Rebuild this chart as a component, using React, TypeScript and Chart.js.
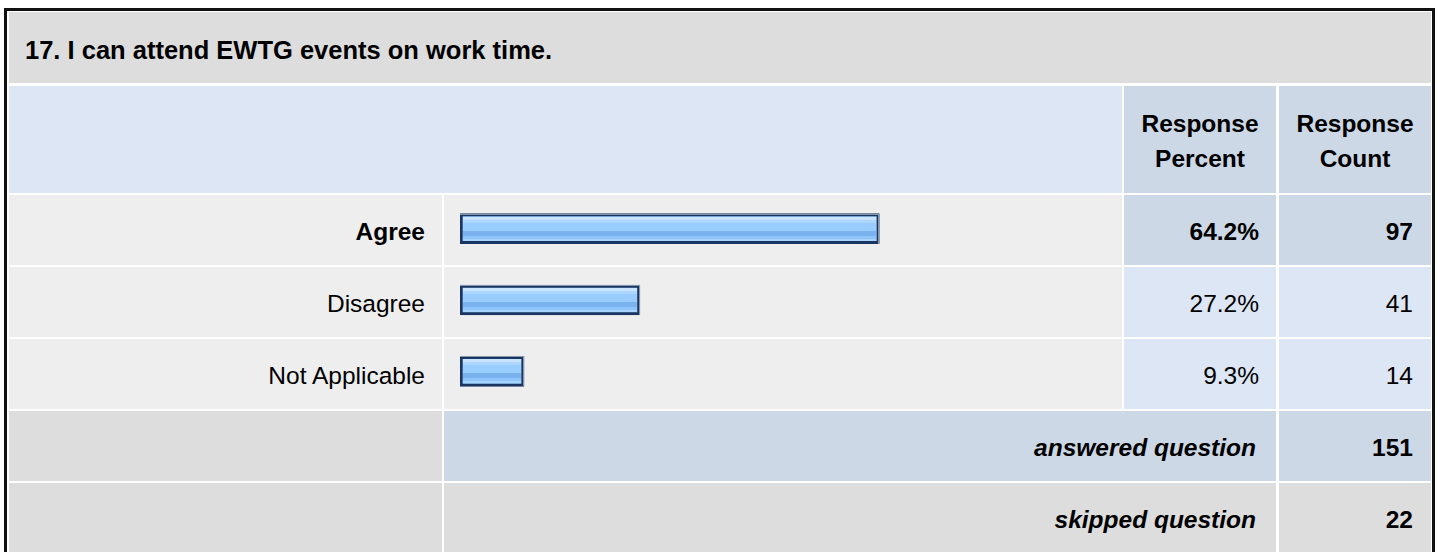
import React, { useEffect, useRef } from 'react';
import { Chart, registerables } from 'chart.js';

Chart.register(...registerables);

const title = '17. I can attend EWTG events on work time.';
const headerPercent = ['Response', 'Percent'];
const headerCount = ['Response', 'Count'];
const categories = ['Agree', 'Disagree', 'Not Applicable'];
const percents = [64.2, 27.2, 9.3];
const counts = [97, 41, 14];
const answeredLabel = 'answered question';
const skippedLabel = 'skipped question';
const answeredCount = 151;
const skippedCount = 22;

const FONT = '"Liberation Sans", Arial, Helvetica, sans-serif';
const FS = '24.5px';

const C = {
  labelL: 9, labelR: 442, barL: 444, barR: 1122,
  pctL: 1124, pctR: 1276, cntL: 1279, cntR: 1431,
};
const ROW0 = 195;
const PITCH = 72;
const ROWH = 70;

const GRAY = '#dddddd';
const ROWBG = '#eeeeee';
const LBLUE = '#dce6f4';
const DBLUE = '#ccd8e6';

type CellProps = {
  x: number; y: number; w: number; h: number; bg: string;
  align?: 'left' | 'right' | 'center'; bold?: boolean; italic?: boolean;
  padR?: number; padL?: number; padT?: number; fs?: string; children?: React.ReactNode;
};

function Cell({ x, y, w, h, bg, align = 'right', bold, italic, padR = 0, padL = 0, padT = 0, fs = FS, children }: CellProps) {
  return (
    <div
      style={{
        position: 'absolute', left: x, top: y, width: w, height: h, background: bg,
        boxSizing: 'border-box', display: 'flex', alignItems: 'center',
        justifyContent: align === 'left' ? 'flex-start' : align === 'center' ? 'center' : 'flex-end',
        textAlign: align, paddingRight: padR, paddingLeft: padL, paddingTop: padT,
        fontFamily: FONT, fontSize: fs, lineHeight: '35px', color: '#000',
        fontWeight: bold ? 'bold' : 'normal', fontStyle: italic ? 'italic' : 'normal',
        whiteSpace: 'nowrap',
      }}
    >
      <div>{children}</div>
    </div>
  );
}

const stripes: [number, number, string][] = [
  [0, 3, '#c8e4ff'],
  [3, 6, '#acd6ff'],
  [6, 14, '#99ccff'],
  [14, 19, '#7ab2ef'],
  [19, 21.5, '#8ec4fa'],
  [21.5, 24, '#a6d3ff'],
];

const glossPlugin = {
  id: 'gloss',
  afterDatasetsDraw(chart: any) {
    const ctx = chart.ctx;
    const meta = chart.getDatasetMeta(0);
    meta.data.forEach((bar: any) => {
      const { x, y, base, height } = bar.getProps(['x', 'y', 'base', 'height'], true);
      const left = Math.round(Math.min(x, base));
      const right = Math.round(Math.max(x, base));
      const top = Math.round(y - height / 2);
      const bottom = top + Math.round(height);
      const bw = 3;
      const il = left + bw, ir = right - bw, it = top + bw, ib = bottom - bw;
      const ih = ib - it;
      ctx.save();
      stripes.forEach(([a, b, col]) => {
        const y0 = it + Math.round((a / 24) * ih);
        const y1 = it + Math.round((b / 24) * ih);
        ctx.fillStyle = col;
        ctx.fillRect(il, y0, ir - il, y1 - y0);
      });
      ctx.fillStyle = 'rgba(150,165,185,0.85)';
      ctx.fillRect(left, top, right - left, 1);
      ctx.fillRect(right - 1, top, 1, bottom - top);
      ctx.restore();
    });
  },
};

function BarChart() {
  const ref = useRef<HTMLCanvasElement | null>(null);
  useEffect(() => {
    if (!ref.current) return;
    const chart = new Chart(ref.current, {
      type: 'bar',
      data: {
        labels: categories,
        datasets: [
          {
            data: percents,
            base: -0.6,
            backgroundColor: '#99ccff',
            borderColor: '#1a3560',
            borderWidth: 3,
            borderSkipped: false,
            barThickness: 30,
          } as any,
        ],
      },
      options: {
        indexAxis: 'y',
        animation: false,
        responsive: false,
        devicePixelRatio: 1,
        layout: { padding: { left: 16, right: 11, top: 0, bottom: 0 } },
        plugins: { legend: { display: false }, tooltip: { enabled: false } },
        scales: {
          x: { min: -0.6, max: 100, display: false },
          y: { display: false },
        },
      },
      plugins: [glossPlugin],
    });
    return () => chart.destroy();
  }, []);
  return (
    <canvas
      ref={ref}
      width={C.barR - C.barL}
      height={214}
      style={{ position: 'absolute', left: C.barL, top: 193, width: C.barR - C.barL, height: 214 }}
    />
  );
}

export default function App() {
  const maxPct = Math.max(...percents);
  const rows = categories.map((cat, i) => {
    const y = ROW0 + PITCH * i;
    const bold = percents[i] === maxPct;
    const pbg = bold ? DBLUE : LBLUE;
    return (
      <React.Fragment key={cat}>
        <Cell x={C.labelL} y={y} w={C.labelR - C.labelL} h={ROWH} bg={ROWBG} bold={bold} padR={17} padT={2}>{cat}</Cell>
        <Cell x={C.barL} y={y} w={C.barR - C.barL} h={ROWH} bg={ROWBG} />
        <Cell x={C.pctL} y={y} w={C.pctR - C.pctL} h={ROWH} bg={pbg} bold={bold} padR={17} padT={2}>{percents[i].toFixed(1) + '%'}</Cell>
        <Cell x={C.cntL} y={y} w={C.cntR - C.cntL} h={ROWH} bg={pbg} bold={bold} padR={18} padT={2}>{counts[i]}</Cell>
      </React.Fragment>
    );
  });
  const yA = ROW0 + PITCH * 3;
  const yS = ROW0 + PITCH * 4;
  return (
    <div style={{ position: 'absolute', left: 0, top: 0, width: 1440, height: 552, overflow: 'hidden', background: '#fff' }}>
      <div style={{ position: 'absolute', left: 4, top: 8, width: 1431, height: 600, border: '3px solid #111', boxSizing: 'border-box' }} />
      <Cell x={C.labelL} y={12} w={C.cntR - C.labelL} h={71} bg={GRAY} align="left" bold padL={16} padT={6} fs="25.5px">{title}</Cell>
      <Cell x={C.labelL} y={86} w={C.barR - C.labelL} h={107} bg={LBLUE} />
      <Cell x={C.pctL} y={86} w={C.pctR - C.pctL} h={107} bg={DBLUE} align="center" bold padT={2}>
        {headerPercent[0]}<br />{headerPercent[1]}
      </Cell>
      <Cell x={C.cntL} y={86} w={C.cntR - C.cntL} h={107} bg={DBLUE} align="center" bold padT={2}>
        {headerCount[0]}<br />{headerCount[1]}
      </Cell>
      {rows}
      <Cell x={C.labelL} y={yA} w={C.labelR - C.labelL} h={ROWH} bg={GRAY} />
      <Cell x={C.barL} y={yA} w={C.pctR - C.barL} h={ROWH} bg={DBLUE} bold italic padR={20} padT={2}>{answeredLabel}</Cell>
      <Cell x={C.cntL} y={yA} w={C.cntR - C.cntL} h={ROWH} bg={DBLUE} bold padR={18} padT={2}>{answeredCount}</Cell>
      <Cell x={C.labelL} y={yS} w={C.labelR - C.labelL} h={ROWH} bg={GRAY} />
      <Cell x={C.barL} y={yS} w={C.pctR - C.barL} h={ROWH} bg={GRAY} bold italic padR={20} padT={2}>{skippedLabel}</Cell>
      <Cell x={C.cntL} y={yS} w={C.cntR - C.cntL} h={ROWH} bg={GRAY} bold padR={18} padT={2}>{skippedCount}</Cell>
      <BarChart />
    </div>
  );
}
